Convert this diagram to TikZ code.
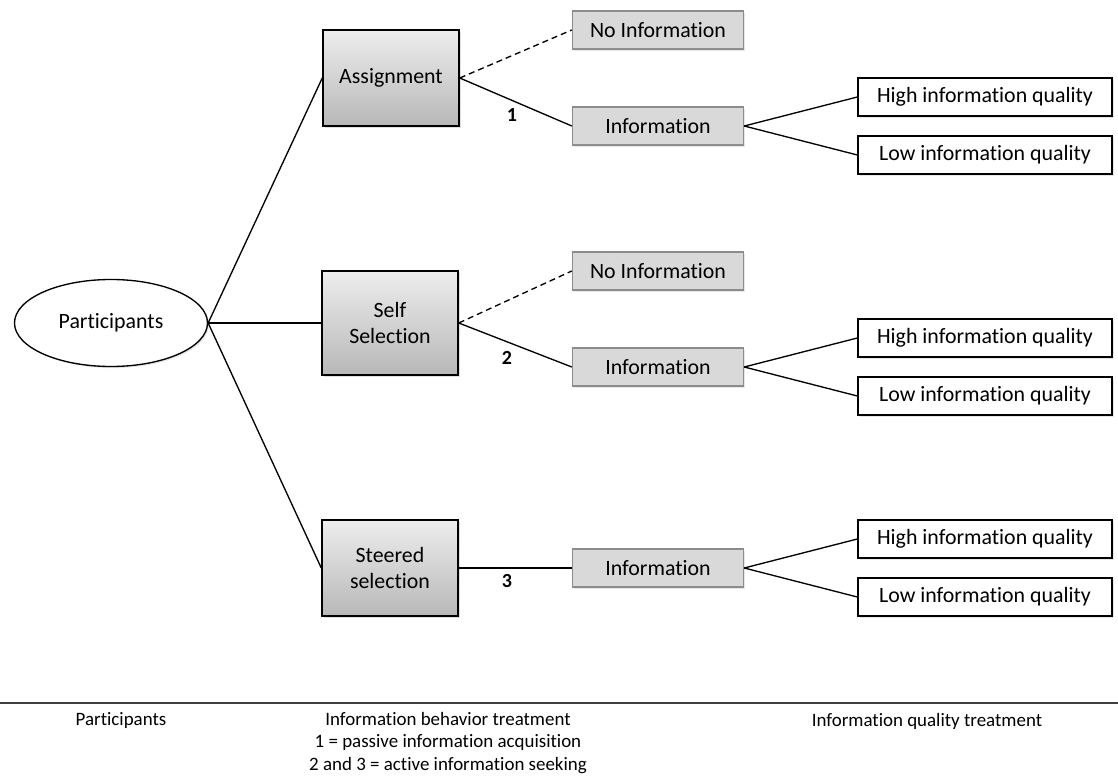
\documentclass[tikz,border=0pt]{standalone}
\usepackage{fontspec}
\setmainfont[Ligatures=NoCommon]{Carlito}
\usetikzlibrary{shapes.geometric,shadows}
\begin{document}
\begin{tikzpicture}[x=0.75pt,y=-0.75pt,
    treatbox/.style={draw=black,line width=1.1pt,top color=black!7,bottom color=black!28,
        align=center,minimum width=102pt,minimum height=72pt,inner sep=2pt,
        font=\fontsize{16.4}{19.5}\selectfont,
        drop shadow={opacity=0.25,shadow xshift=1.2pt,shadow yshift=-1.2pt}},
    infobox/.style={draw=black!45,line width=1.1pt,fill=black!15,
        minimum width=128.25pt,minimum height=28.5pt,inner sep=1pt,
        font=\fontsize{16.4}{19.5}\selectfont,
        drop shadow={opacity=0.2,shadow xshift=1.2pt,shadow yshift=-1.2pt}},
    qualbox/.style={draw=black,line width=1pt,fill=white,
        minimum width=190.5pt,minimum height=28.5pt,inner sep=1pt,
        font=\fontsize{16.4}{19.5}\selectfont,
        drop shadow={opacity=0.2,shadow xshift=1.2pt,shadow yshift=-1.2pt}},
    link/.style={line width=1pt},
    nolink/.style={line width=1pt,dash pattern=on 4.5pt off 3pt},
    numlabel/.style={font=\bfseries\fontsize{15}{18}\selectfont},
    legend/.style={font=\fontsize{14.2}{16.9}\selectfont,align=center}]
    \useasboundingbox (0,0) rectangle (1118,780);

    \node[ellipse,draw=black,line width=1pt,fill=white,minimum width=144.75pt,minimum height=65.25pt,
        inner sep=0pt,font=\fontsize{16.4}{19.5}\selectfont,
        drop shadow={opacity=0.2,shadow xshift=1.2pt,shadow yshift=-1.2pt}] (part) at (111,323) {Participants};

    \node[treatbox] (assign) at (391,78) {Assignment};
    \node[treatbox,minimum height=78pt] (self) at (390,323) {Self\\Selection};
    \node[treatbox] (steer) at (390,568) {Steered\\selection};

    \node[infobox] (noinfoA) at (658,30) {No Information};
    \node[infobox] (infoA) at (658,126) {Information};
    \node[infobox] (noinfoB) at (658,271) {No Information};
    \node[infobox] (infoB) at (658,367) {Information};
    \node[infobox] (infoC) at (658,568) {Information};

    \node[qualbox] (highA) at (985,97) {High information quality};
    \node[qualbox] (lowA) at (985,155) {Low information quality};
    \node[qualbox] (highB) at (985,338) {High information quality};
    \node[qualbox] (lowB) at (985,396) {Low information quality};
    \node[qualbox] (highC) at (985,539) {High information quality};
    \node[qualbox] (lowC) at (985,597) {Low information quality};

    \path [link] (part.east) edge (assign.west);
    \path [link] (part.east) edge (self.west);
    \path [link] (part.east) edge (steer.west);

    \path [nolink] (assign.east) edge (noinfoA.west);
    \path [link] (assign.east) edge (infoA.west);
    \path [nolink] (self.east) edge (noinfoB.west);
    \path [link] (self.east) edge (infoB.west);
    \path [link] (steer.east) edge (infoC.west);

    \path [link] (infoA.east) edge (highA.west);
    \path [link] (infoA.east) edge (lowA.west);
    \path [link] (infoB.east) edge (highB.west);
    \path [link] (infoB.east) edge (lowB.west);
    \path [link] (infoC.east) edge (highC.west);
    \path [link] (infoC.east) edge (lowC.west);

    \node[numlabel] (one) at (512,115) {1};
    \node[numlabel] (two) at (507,358) {2};
    \node[numlabel] (three) at (507,581) {3};

    % legend below the tree
    \coordinate (ruleL) at (0,703);
    \coordinate (ruleR) at (1118,703);
    \draw [line width=1.4pt,black!75] (ruleL) -- (ruleR);
    \node[legend] (legPart) at (121,721) {Participants};
    \node[legend] (legBeh) at (448,743) {Information behavior treatment\\1 = passive information acquisition\\2 and 3 = active information seeking};
    \node[legend] (legQual) at (927,721) {Information quality treatment};
\end{tikzpicture}
\end{document}
